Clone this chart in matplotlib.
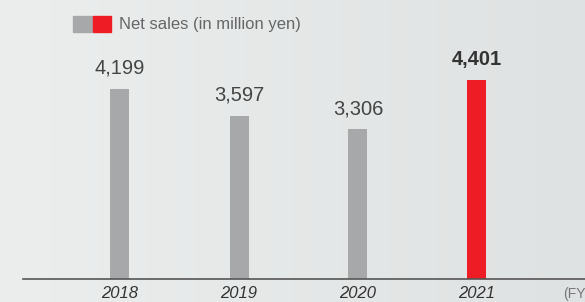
import numpy as np
import matplotlib.pyplot as plt
from matplotlib.patches import Rectangle
from matplotlib.colors import LinearSegmentedColormap

plt.rcParams['font.family'] = ['Liberation Sans', 'DejaVu Sans']

years = ['2018', '2019', '2020', '2021']
sales = [4199, 3597, 3306, 4401]
labels = ['4,199', '3,597', '3,306', '4,401']
colors = ['#a7a8aa', '#a7a8aa', '#a7a8aa', '#ee1c25']

W, H = 585, 302
fig = plt.figure(figsize=(W / 100, H / 100), dpi=100)
fig.patch.set_facecolor('#e5e7e7')

# light gradient background
bg = fig.add_axes([0, 0, 1, 1])
grad = np.linspace(0, 1, 256).reshape(1, -1)
bg.imshow(np.vstack([grad, grad]), aspect='auto',
          cmap=LinearSegmentedColormap.from_list('bg', ['#eceeee', '#dfe2e2']),
          extent=[0, 1, 0, 1])
bg.axis('off')

# axes: left at 23px, baseline at 279px from top
x0, base = 23, 279
ax = fig.add_axes([x0 / W, (H - base) / H, (W - x0) / W, base / H])
ax.patch.set_alpha(0)
step = 119
ax.set_xlim(-(120 - x0) / step, (W - 120) / step)
ax.set_ylim(0, base / (190 / 4199))

x = np.arange(len(years))
ax.bar(x, sales, width=19 / step, color=colors, zorder=2)

for i, (v, lab) in enumerate(zip(sales, labels)):
    ax.annotate(lab, (i, v), xytext=(0, 15), textcoords='offset points',
                ha='center', va='center', fontsize=14.5,
                color='#333333' if i == 3 else '#444444',
                fontweight='bold' if i == 3 else 'normal')

for s in ['top', 'right', 'left']:
    ax.spines[s].set_visible(False)
ax.spines['bottom'].set_color('#555555')
ax.spines['bottom'].set_linewidth(1.2)
ax.set_yticks([])
ax.set_xticks(x)
ax.set_xticklabels(years, fontsize=12, style='italic', color='#333333')
ax.tick_params(axis='x', length=0, pad=5)

# (FY label at right edge, cut off as in the source
fig.text(563 / W, (H - 294) / H, '(FY', fontsize=10, color='#777777', va='center', ha='left')

# legend swatches
fig.add_artist(Rectangle((73 / W, (H - 32) / H), 19 / W, 16 / H, transform=fig.transFigure, color='#a7a8aa'))
fig.add_artist(Rectangle((93 / W, (H - 32) / H), 18 / W, 16 / H, transform=fig.transFigure, color='#ee1c25'))
fig.text(119 / W, (H - 24) / H, 'Net sales (in million yen)', fontsize=12, color='#666666', va='center', ha='left')

fig.savefig('out.png', dpi=100, facecolor=fig.get_facecolor())
